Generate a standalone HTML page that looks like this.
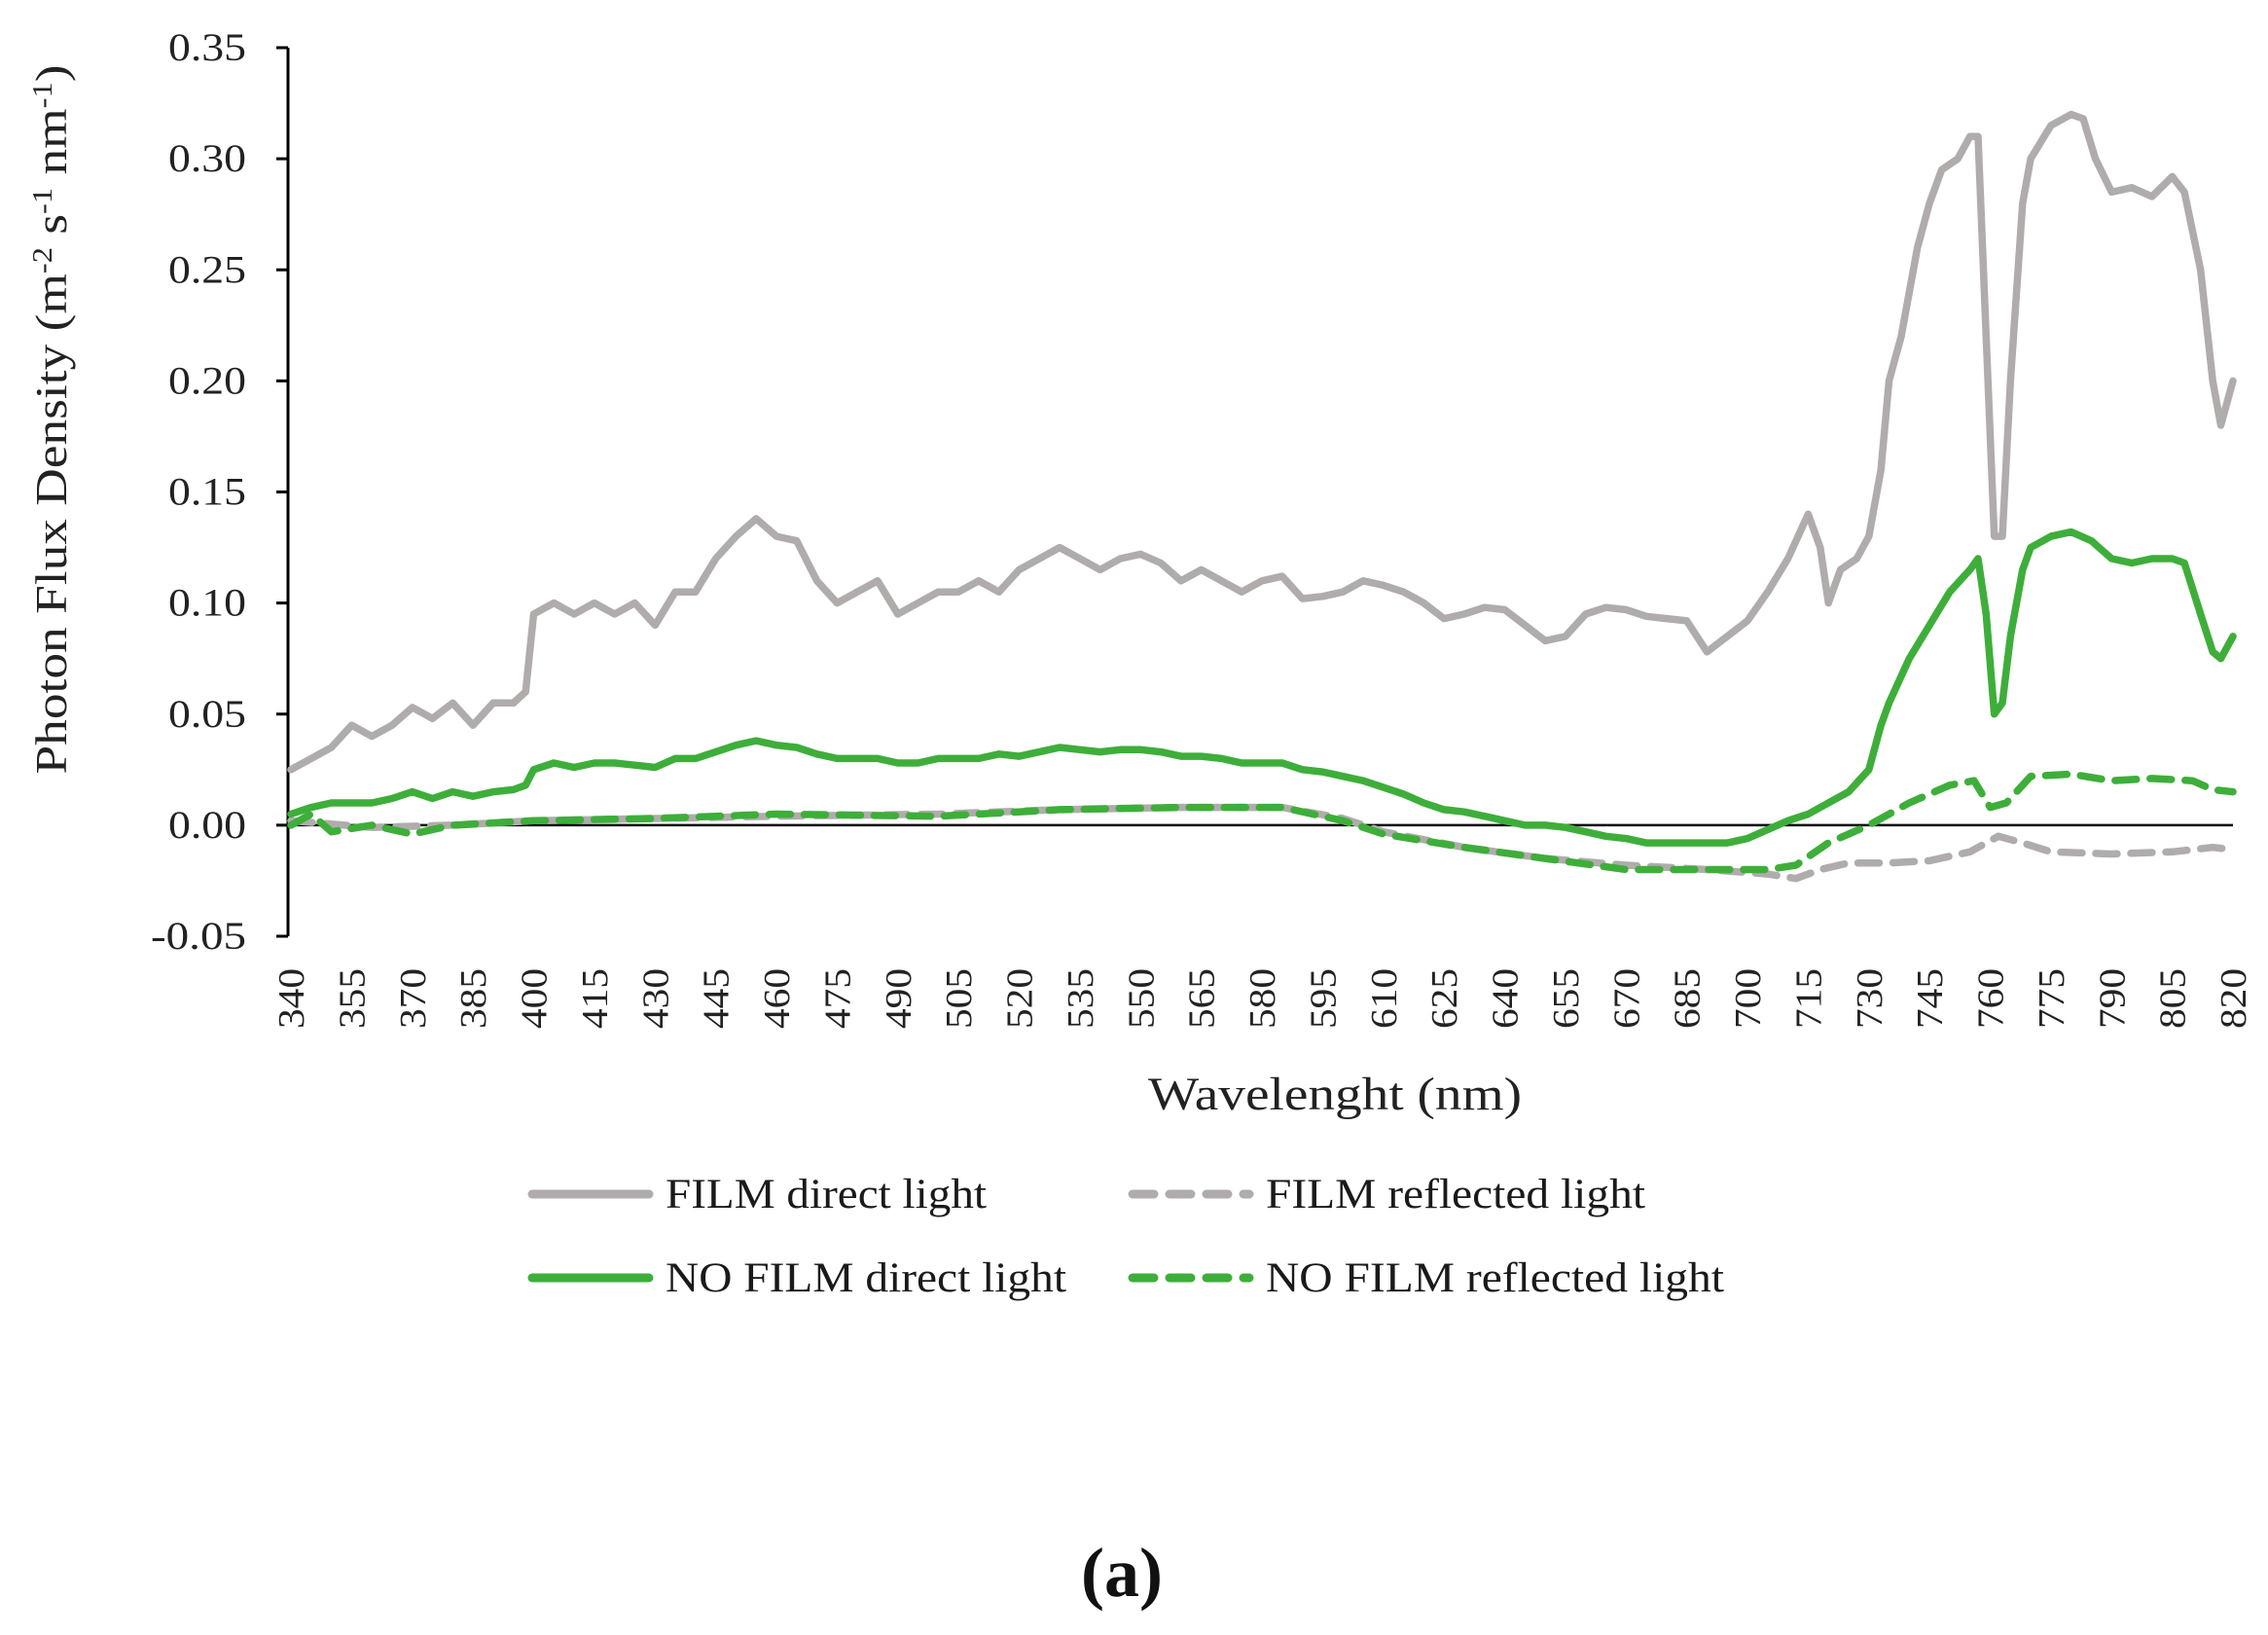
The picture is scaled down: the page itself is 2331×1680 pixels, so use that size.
<!DOCTYPE html>
<html><head><meta charset="utf-8"><style>
html,body{margin:0;padding:0;background:#fff;}
svg{display:block;font-family:"Liberation Serif",serif;}
</style></head><body>
<svg id="chart" width="2331" height="1680" viewBox="0 0 2331 1680"></svg>
<script>
// ---- data ----
const yTicks = [-0.05, 0, 0.05, 0.10, 0.15, 0.20, 0.25, 0.30, 0.35];
const xTicks = [340,355,370,385,400,415,430,445,460,475,490,505,520,535,550,565,580,595,610,625,640,655,670,685,700,715,730,745,760,775,790,805,820];

const filmDirectNm = [340,345,350,355,360,365,370,375,380,385,390,395,398,400,405,410,415,420,425,430,435,440,445,450,455,460,465,470,475,480,485,490,495,500,505,510,515,520,525,530,535,540,545,550,555,560,565,570,575,580,585,590,595,600,605,610,615,620,625,630,635,640,645,650,655,660,665,670,675,680,685,690,695,700,705,710,715,718,720,723,727,730,733,735,738,742,745,748,752,755,757,759,761,763,765,768,770,775,780,783,786,790,795,800,805,808,812,815,817,820];
const filmDirect = [0.025,0.03,0.035,0.045,0.04,0.045,0.053,0.048,0.055,0.045,0.055,0.055,0.06,0.095,0.1,0.095,0.1,0.095,0.1,0.09,0.105,0.105,0.12,0.13,0.138,0.13,0.128,0.11,0.1,0.105,0.11,0.095,0.1,0.105,0.105,0.11,0.105,0.115,0.12,0.125,0.12,0.115,0.12,0.122,0.118,0.11,0.115,0.11,0.105,0.11,0.112,0.102,0.103,0.105,0.11,0.108,0.105,0.1,0.093,0.095,0.098,0.097,0.09,0.083,0.085,0.095,0.098,0.097,0.094,0.093,0.092,0.078,0.085,0.092,0.105,0.12,0.14,0.125,0.1,0.115,0.12,0.13,0.16,0.2,0.22,0.26,0.28,0.295,0.3,0.31,0.31,0.22,0.13,0.13,0.2,0.28,0.3,0.315,0.32,0.318,0.3,0.285,0.287,0.283,0.292,0.285,0.25,0.2,0.18,0.2];

const noFilmDirectNm = [340,345,350,355,360,365,370,375,380,385,390,395,398,400,405,410,415,420,425,430,435,440,445,450,455,460,465,470,475,480,485,490,495,500,505,510,515,520,525,530,535,540,545,550,555,560,565,570,575,580,585,590,595,600,605,610,615,620,625,630,635,640,645,650,655,660,665,670,675,680,685,690,695,700,705,710,715,720,725,730,733,735,740,745,750,755,757,759,761,763,765,768,770,775,780,785,790,795,800,805,808,812,815,817,820];
const noFilmDirect = [0.005,0.008,0.01,0.01,0.01,0.012,0.015,0.012,0.015,0.013,0.015,0.016,0.018,0.025,0.028,0.026,0.028,0.028,0.027,0.026,0.03,0.03,0.033,0.036,0.038,0.036,0.035,0.032,0.03,0.03,0.03,0.028,0.028,0.03,0.03,0.03,0.032,0.031,0.033,0.035,0.034,0.033,0.034,0.034,0.033,0.031,0.031,0.03,0.028,0.028,0.028,0.025,0.024,0.022,0.02,0.017,0.014,0.01,0.007,0.006,0.004,0.002,0.0,0.0,-0.001,-0.003,-0.005,-0.006,-0.008,-0.008,-0.008,-0.008,-0.008,-0.006,-0.002,0.002,0.005,0.01,0.015,0.025,0.045,0.055,0.075,0.09,0.105,0.115,0.12,0.095,0.05,0.055,0.085,0.115,0.125,0.13,0.132,0.128,0.12,0.118,0.12,0.12,0.118,0.095,0.078,0.075,0.085];

const filmReflNm = [340,360,380,400,430,460,500,530,560,585,600,610,630,650,670,690,705,712,718,725,735,745,755,762,768,775,790,805,815,820];
const filmRefl = [0.002,-0.001,0.0,0.002,0.003,0.004,0.005,0.007,0.008,0.008,0.003,-0.003,-0.01,-0.015,-0.018,-0.02,-0.022,-0.024,-0.02,-0.017,-0.017,-0.016,-0.012,-0.005,-0.008,-0.012,-0.013,-0.012,-0.01,-0.011];

const noFilmReflNm = [340,345,350,360,370,380,400,430,460,500,530,560,585,600,610,630,650,670,690,705,712,720,730,740,750,756,760,764,770,780,790,800,810,815,820];
const noFilmRefl = [0.0,0.005,-0.003,0.0,-0.004,0.0,0.002,0.003,0.005,0.004,0.007,0.008,0.008,0.002,-0.004,-0.01,-0.015,-0.02,-0.02,-0.02,-0.018,-0.008,0.0,0.01,0.018,0.02,0.008,0.01,0.022,0.023,0.02,0.021,0.02,0.016,0.015];

// ---- axes ----
const X0 = 299, X1 = 2295, Y_TOP = 49, Y_BOT = 962;
const xMin = 340, xMax = 820, yMin = -0.05, yMax = 0.35;
const xs = v => X0 + (v - xMin) / (xMax - xMin) * (X1 - X0);
const ys = v => Y_BOT - (v - yMin) / (yMax - yMin) * (Y_BOT - Y_TOP);

const NS = "http://www.w3.org/2000/svg";
const svg = document.getElementById('chart');
function mk(tag, attrs, parent) {
  const e = document.createElementNS(NS, tag);
  for (const k in attrs) e.setAttribute(k, attrs[k]);
  (parent || svg).appendChild(e);
  return e;
}
const GRAY = "#b0acac", GREEN = "#3eae3a";

const yAxis = mk('line', {x1:296, y1:Y_TOP, x2:296, y2:Y_BOT, stroke:'#000', 'stroke-width':3});


yTicks.forEach(t => {
  const tk = mk('line', {x1:284, y1:ys(t), x2:296, y2:ys(t), stroke:'#000', 'stroke-width':3});
  
  
  const lab = t.toFixed(2);
  const lb = mk('text', {x:253, y:ys(t)+13, 'text-anchor':'end', 'font-size':40, fill:'#222', textLength: lab.length === 5 ? 98 : 80, lengthAdjust:'spacingAndGlyphs'});
  lb.textContent = lab;
  
  
});
const zl = mk('line', {x1:296, y1:ys(0), x2:X1, y2:ys(0), stroke:'#000', 'stroke-width':2.5});


xTicks.forEach(t => {
  const lb = mk('text', {transform:`translate(${xs(t)+13},995) rotate(-90)`, 'text-anchor':'end', 'font-size':38, fill:'#222', textLength:62, lengthAdjust:'spacingAndGlyphs'});
  lb.textContent = t;
  
  
});

function series(nm, vals, color, dash, name) {
  const d = nm.map((n, i) => (i ? 'L' : 'M') + xs(n).toFixed(1) + ',' + ys(vals[i]).toFixed(1)).join(' ');
  const p = mk('path', {d, fill:'none', stroke:color, 'stroke-width':7.5, 'stroke-linejoin':'round', 'stroke-linecap':'round'});
  if (dash) p.setAttribute('stroke-dasharray', '22 14');
  
  
}
series(filmReflNm, filmRefl, GRAY, true, 'film-reflected-line');
series(filmDirectNm, filmDirect, GRAY, false, 'film-direct-line');
series(noFilmReflNm, noFilmRefl, GREEN, true, 'no-film-reflected-line');
series(noFilmDirectNm, noFilmDirect, GREEN, false, 'no-film-direct-line');

const yt = mk('text', {transform:'translate(68,431) rotate(-90)', 'text-anchor':'middle', 'font-size':46, fill:'#222', textLength:729, lengthAdjust:'spacingAndGlyphs'});
yt.innerHTML = 'Photon Flux Density (m<tspan dy="-15" font-size="28">-2</tspan><tspan dy="15"> s</tspan><tspan dy="-15" font-size="28">-1</tspan><tspan dy="15"> nm</tspan><tspan dy="-15" font-size="28">-1</tspan><tspan dy="15">)</tspan>';



const xt = mk('text', {x:1180, y:1140, 'font-size':48, fill:'#222', textLength:384, lengthAdjust:'spacingAndGlyphs'});
xt.textContent = 'Wavelenght (nm)';



const legendNames = ['FILM direct light','FILM reflected light','NO FILM direct light','NO FILM reflected light'];
const legendColors = [GRAY, GRAY, GREEN, GREEN];
const legendDash = [false, true, false, true];
const legendLens = [330, 390, 412, 471];
legendNames.forEach((nm, i) => {
  const col = i % 2, row = Math.floor(i / 2);
  const lx = col ? 1160 : 543, ly = row ? 1313 : 1227;
  const g = mk('g', {});
  
  
  const ln = mk('line', {x1:lx+4, y1:ly, x2:lx+124, y2:ly, stroke:legendColors[i], 'stroke-width':9, 'stroke-linecap':'round'}, g);
  if (legendDash[i]) ln.setAttribute('stroke-dasharray', '22 16');
  
  
  const tx = mk('text', {x:lx+141, y:ly+14, 'font-size':43, fill:'#1a1a1a', textLength:legendLens[i], lengthAdjust:'spacingAndGlyphs'}, g);
  tx.textContent = nm;
  
  
});

const cap = mk('text', {x:1153, y:1640, 'text-anchor':'middle', 'font-size':72, 'font-weight':'bold', fill:'#111'});
cap.textContent = '(a)';


</script>
</body></html>
